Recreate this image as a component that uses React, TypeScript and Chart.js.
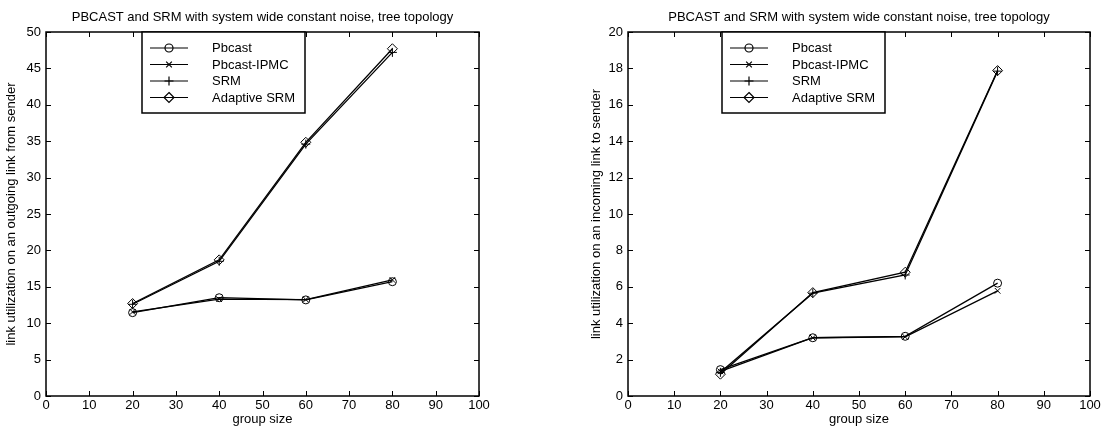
import React, { useEffect, useRef } from "react";
import { Chart, registerables } from "chart.js";

Chart.register(...registerables);

const FONT = '"Liberation Sans", Arial, Helvetica, sans-serif';

const groupSizes = [20, 40, 60, 80];
const seriesNames = ["Pbcast", "Pbcast-IPMC", "SRM", "Adaptive SRM"];
const chartTitle = "PBCAST and SRM with system wide constant noise, tree topology";
const xAxisTitle = "group size";
const leftYTitle = "link utilization on an outgoing link from sender";
const rightYTitle = "link utilization on an incoming link to sender";

// outgoing link (left chart)
const outPbcast = [11.45, 13.5, 13.2, 15.7];
const outPbcastIpmc = [11.55, 13.3, 13.25, 15.95];
const outSrm = [12.6, 18.5, 34.6, 47.2];
const outAdaptiveSrm = [12.7, 18.7, 34.85, 47.7];

// incoming link (right chart)
const inPbcast = [1.45, 3.2, 3.28, 6.2];
const inPbcastIpmc = [1.35, 3.2, 3.25, 5.78];
const inSrm = [1.3, 5.65, 6.65, 17.85];
const inAdaptiveSrm = [1.2, 5.68, 6.8, 17.88];

const pointStyles = ["circle", "crossRot", "cross", "rectRot"];
const pointRadii = [4, 4, 4.5, 5];

function drawMarker(ctx: CanvasRenderingContext2D, style: string, x: number, y: number, r: number) {
  ctx.beginPath();
  if (style === "circle") {
    ctx.arc(x, y, r, 0, Math.PI * 2);
  } else if (style === "crossRot") {
    const d = r * Math.SQRT1_2;
    ctx.moveTo(x - d, y - d); ctx.lineTo(x + d, y + d);
    ctx.moveTo(x - d, y + d); ctx.lineTo(x + d, y - d);
  } else if (style === "cross") {
    ctx.moveTo(x - r, y); ctx.lineTo(x + r, y);
    ctx.moveTo(x, y - r); ctx.lineTo(x, y + r);
  } else {
    ctx.moveTo(x, y - r); ctx.lineTo(x + r, y); ctx.lineTo(x, y + r); ctx.lineTo(x - r, y); ctx.closePath();
  }
  ctx.stroke();
}

const framePlugin = {
  id: "matlabFrame",
  afterDraw(chart: any, _args: any, opts: any) {
    const { ctx, chartArea: a } = chart;
    const xs = chart.scales.x;
    const ys = chart.scales.y;
    ctx.save();
    ctx.strokeStyle = "#000";
    ctx.lineWidth = 1.5;
    ctx.strokeRect(a.left, a.top, a.right - a.left, a.bottom - a.top);
    ctx.lineWidth = 1;
    const tl = 5;
    ctx.beginPath();
    xs.ticks.forEach((t: any) => {
      const px = Math.round(xs.getPixelForValue(t.value)) + 0.5;
      ctx.moveTo(px, a.bottom); ctx.lineTo(px, a.bottom - tl);
      ctx.moveTo(px, a.top); ctx.lineTo(px, a.top + tl);
    });
    ys.ticks.forEach((t: any) => {
      const py = Math.round(ys.getPixelForValue(t.value)) + 0.5;
      ctx.moveTo(a.left, py); ctx.lineTo(a.left + tl, py);
      ctx.moveTo(a.right, py); ctx.lineTo(a.right - tl, py);
    });
    ctx.stroke();

    // title
    ctx.fillStyle = "#000";
    ctx.font = `13px ${FONT}`;
    ctx.textAlign = "center";
    ctx.textBaseline = "middle";
    ctx.fillText(opts.title, (a.left + a.right) / 2, 17);

    // legend
    const lx = a.left + opts.legendOffset;
    const ly = a.top;
    const lw = 163;
    const lh = 81;
    ctx.fillStyle = "#fff";
    ctx.fillRect(lx, ly, lw, lh);
    ctx.lineWidth = 1.5;
    ctx.strokeRect(lx, ly, lw, lh);
    ctx.lineWidth = 1.2;
    ctx.textAlign = "left";
    ctx.font = `13px ${FONT}`;
    seriesNames.forEach((name, i) => {
      const ry = ly + 16 + i * 16.5;
      ctx.beginPath();
      ctx.moveTo(lx + 8, ry); ctx.lineTo(lx + 46, ry);
      ctx.stroke();
      drawMarker(ctx, pointStyles[i], lx + 27, ry, pointRadii[i]);
      ctx.fillStyle = "#000";
      ctx.fillText(name, lx + 70, ry + 0.5);
    });
    ctx.restore();
  },
};

function makeConfig(p: {
  data: number[][];
  yMax: number;
  yStep: number;
  yTitle: string;
  yWidth: number;
  yTitlePad: number;
  rightPad: number;
  legendOffset: number;
}): any {
  return {
    type: "line",
    data: {
      datasets: p.data.map((vals, i) => ({
        label: seriesNames[i],
        data: groupSizes.map((g, j) => ({ x: g, y: vals[j] })),
        borderColor: "#000",
        backgroundColor: "transparent",
        borderWidth: 1.3,
        pointStyle: pointStyles[i],
        pointRadius: pointRadii[i],
        pointBorderColor: "#000",
        pointBackgroundColor: "transparent",
        pointBorderWidth: 1,
        tension: 0,
      })),
    },
    options: {
      responsive: false,
      animation: false,
      devicePixelRatio: 1,
      layout: { padding: { top: 32, left: 0, right: p.rightPad, bottom: 0 } },
      plugins: {
        legend: { display: false },
        tooltip: { enabled: false },
        matlabFrame: { title: chartTitle, legendOffset: p.legendOffset },
      },
      scales: {
        x: {
          type: "linear",
          min: 0,
          max: 100,
          grid: { display: false, drawTicks: false },
          border: { display: false },
          ticks: {
            stepSize: 10,
            autoSkip: false,
            maxRotation: 0,
            color: "#000",
            font: { size: 13, family: FONT },
            padding: 2,
          },
          title: {
            display: true,
            text: xAxisTitle,
            color: "#000",
            font: { size: 13, family: FONT },
            padding: { top: 0, bottom: 15 },
          },
          afterFit: (s: any) => { s.height = 46; },
        },
        y: {
          type: "linear",
          min: 0,
          max: p.yMax,
          grid: { display: false, drawTicks: false },
          border: { display: false },
          ticks: {
            stepSize: p.yStep,
            autoSkip: false,
            color: "#000",
            font: { size: 13, family: FONT },
            padding: 5,
          },
          title: {
            display: true,
            text: p.yTitle,
            color: "#000",
            font: { size: 13, family: FONT },
            padding: { top: p.yTitlePad, bottom: 0 },
          },
          afterFit: (s: any) => { s.width = p.yWidth; },
        },
      },
    },
    plugins: [framePlugin],
  };
}

export default function App() {
  const leftRef = useRef<HTMLCanvasElement | null>(null);
  const rightRef = useRef<HTMLCanvasElement | null>(null);

  useEffect(() => {
    Chart.defaults.font.family = FONT;
    Chart.defaults.color = "#000";
    const left = new Chart(
      leftRef.current as HTMLCanvasElement,
      makeConfig({
        data: [outPbcast, outPbcastIpmc, outSrm, outAdaptiveSrm],
        yMax: 50,
        yStep: 5,
        yTitle: leftYTitle,
        yWidth: 46,
        yTitlePad: 4,
        rightPad: 76,
        legendOffset: 96,
      })
    );
    const right = new Chart(
      rightRef.current as HTMLCanvasElement,
      makeConfig({
        data: [inPbcast, inPbcastIpmc, inSrm, inAdaptiveSrm],
        yMax: 20,
        yStep: 2,
        yTitle: rightYTitle,
        yWidth: 73,
        yTitlePad: 34,
        rightPad: 19,
        legendOffset: 94,
      })
    );
    return () => {
      left.destroy();
      right.destroy();
    };
  }, []);

  return (
    <div style={{ position: "fixed", left: 0, top: 0, width: 1109, height: 442, background: "#fff" }}>
      <canvas ref={leftRef} width={555} height={442} style={{ position: "absolute", left: 0, top: 0 }} />
      <canvas ref={rightRef} width={554} height={442} style={{ position: "absolute", left: 555, top: 0 }} />
    </div>
  );
}
